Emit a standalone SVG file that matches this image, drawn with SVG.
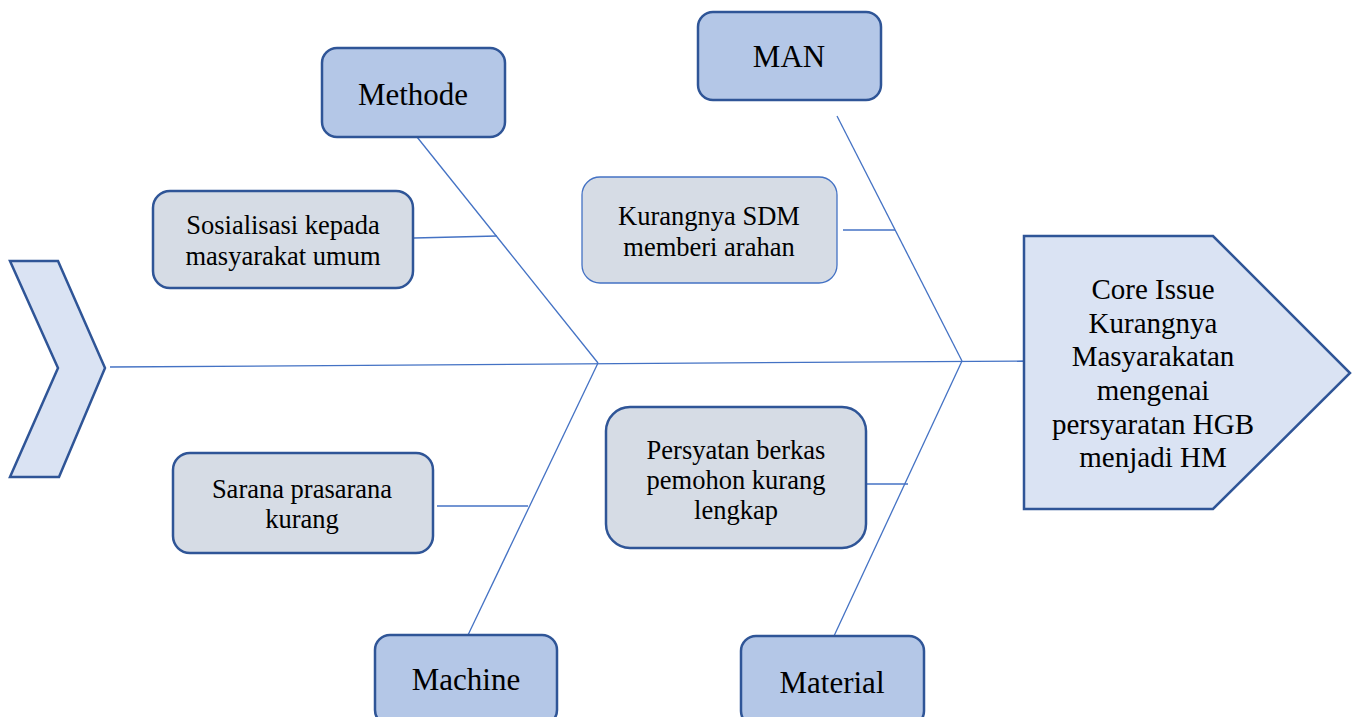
<svg xmlns="http://www.w3.org/2000/svg" width="1358" height="717" viewBox="0 0 1358 717">
<style>
.cat{fill:#B4C7E7;stroke:#2F5597;stroke-width:2.5}
.cause{fill:#D6DCE5;stroke:#2F5597;stroke-width:2.5}
.cause2{fill:#D6DCE5;stroke:#4472C4;stroke-width:1.3}
.head{fill:#DAE3F3;stroke:#2F5597;stroke-width:2.5;stroke-linejoin:miter}
.bone{stroke:#4472C4;stroke-width:1.3;fill:none}
text{font-family:'Liberation Serif','DejaVu Serif',serif;fill:#000;text-anchor:middle}
.t1{font-size:31px}
.t2{font-size:26.5px}
.t3{font-size:29px}
</style>
<rect width="1358" height="717" fill="#fff"/>
<g id="connectors">
<line class="bone" x1="110" y1="367" x2="1024" y2="361"/>
<line class="bone" x1="417" y1="137" x2="598" y2="363"/>
<line class="bone" x1="598" y1="363" x2="468" y2="635"/>
<line class="bone" x1="837" y1="116" x2="962" y2="361"/>
<line class="bone" x1="962" y1="361" x2="834" y2="636"/>
<line class="bone" x1="414" y1="238" x2="497" y2="236"/>
<line class="bone" x1="437" y1="506" x2="528" y2="506"/>
<line class="bone" x1="843" y1="230" x2="895" y2="230"/>
<line class="bone" x1="866" y1="484" x2="908" y2="484"/>
</g>
<g id="tail">
<polygon class="head" points="10,261 58,261 105,368 59,477 10,477 58,368"/>
</g>
<g id="head" font-family="Liberation Serif, serif">
<polygon class="head" points="1024,236 1213,236 1350,373 1213,509 1024,509"/>
<text class="t3" x="1153" y="299">Core Issue</text>
<text class="t3" x="1153" y="333">Kurangnya</text>
<text class="t3" x="1153" y="366">Masyarakatan</text>
<text class="t3" x="1153" y="400">mengenai</text>
<text class="t3" x="1153" y="434">persyaratan HGB</text>
<text class="t3" x="1153" y="467">menjadi HM</text>
</g>
<g id="methode">
<rect class="cat" x="322" y="48" width="183" height="89" rx="15"/>
<text class="t1" x="413" y="105">Methode</text>
</g>
<g id="man">
<rect class="cat" x="698" y="12" width="183" height="88" rx="15"/>
<text class="t1" x="789" y="67">MAN</text>
</g>
<g id="machine">
<rect class="cat" x="375" y="635" width="182" height="90" rx="15"/>
<text class="t1" x="466" y="690">Machine</text>
</g>
<g id="material">
<rect class="cat" x="741" y="636" width="183" height="90" rx="15"/>
<text class="t1" x="832" y="693">Material</text>
</g>
<g id="sosialisasi">
<rect class="cause" x="153" y="191" width="260" height="97" rx="17"/>
<text class="t2" x="283" y="234">Sosialisasi kepada</text>
<text class="t2" x="283" y="265">masyarakat umum</text>
</g>
<g id="sdm">
<rect class="cause2" x="582" y="177" width="255" height="106" rx="18"/>
<text class="t2" x="709" y="225">Kurangnya SDM</text>
<text class="t2" x="709" y="256">memberi arahan</text>
</g>
<g id="sarana">
<rect class="cause" x="173" y="453" width="260" height="100" rx="17"/>
<text class="t2" x="302" y="498">Sarana prasarana</text>
<text class="t2" x="302" y="528">kurang</text>
</g>
<g id="persyatan">
<rect class="cause" x="606" y="407" width="260" height="141" rx="24"/>
<text class="t2" x="736" y="459">Persyatan berkas</text>
<text class="t2" x="736" y="489">pemohon kurang</text>
<text class="t2" x="736" y="519">lengkap</text>
</g>
</svg>
